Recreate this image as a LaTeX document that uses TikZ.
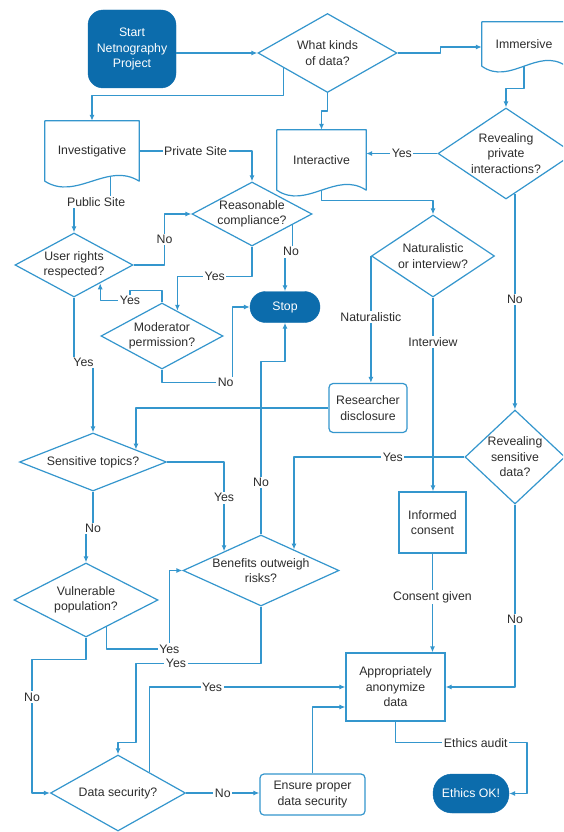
\documentclass[tikz,border=0pt]{standalone}
\usepackage{fontspec}
\setmainfont{Liberation Sans}
\usetikzlibrary{shapes.geometric,arrows.meta,calc}
\definecolor{lc}{RGB}{52,150,205}
\definecolor{dk}{RGB}{12,108,172}
\definecolor{txt}{RGB}{45,45,45}
\newcommand{\docout}[1]{%
  \draw[ln] (#1.south west) -- (#1.north west) -- (#1.north east) -- (#1.south east)
    .. controls ($(#1.south east)!0.333!(#1.south west)+(0,-20)$) and ($(#1.south east)!0.667!(#1.south west)+(0,20)$) .. (#1.south west) -- cycle;}
\begin{document}
\begin{tikzpicture}[x=1pt,y=-1pt,
  every node/.style={font=\fontsize{12.3}{15.5}\selectfont, text=txt},
  ln/.style={draw=lc, line width=1.2pt, line join=round},
  arr/.style={draw=lc, line width=1.2pt, line join=round, -{Latex[length=6pt,width=5pt]}},
  dia/.style={diamond, draw=lc, line width=1.2pt, inner sep=0pt, fill=white},
  dtext/.style={align=center, inner sep=0pt, text=txt},
  docbox/.style={rectangle, inner sep=0pt, align=center},
  box/.style={rectangle, draw=lc, line width=1.2pt, inner sep=0pt, align=center, fill=white},
  rbox/.style={box, rounded corners=4pt},
  term/.style={rectangle, fill=dk, draw=dk, text=white, inner sep=0pt, align=center},
  lbl/.style={fill=white, inner sep=1.5pt, text=txt}
]
\useasboundingbox (0,0) rectangle (563,832);
\fill[white] (0,0) rectangle (563,832);
\clip (0,0) rectangle (563,832);

% nodes
\node[term, rounded corners=15pt, minimum width=88pt, minimum height=78pt] (start) at (132,49) {Start\\Netnography\\Project};
\node[dia, minimum width=139pt, minimum height=79pt, label={[dtext]center:{What kinds\\of data?}}] (kinds) at (327.5,53) {};
\node[docbox, minimum width=84pt, minimum height=44pt] (imm) at (524,44) {Immersive};
\node[dia, minimum width=136pt, minimum height=91pt, label={[dtext]center:{Revealing\\private\\interactions?}}] (revpriv) at (506,153.5) {};
\node[docbox, minimum width=94pt, minimum height=60pt] (invest) at (92,151) {Investigative};
\node[docbox, minimum width=89pt, minimum height=60pt] (inter) at (321.5,160) {Interactive};
\node[dia, minimum width=120pt, minimum height=64pt, label={[dtext]center:{Reasonable\\compliance?}}] (reason) at (252,214) {};
\node[dia, minimum width=118pt, minimum height=64pt, label={[dtext]center:{User rights\\respected?}}] (user) at (74,265) {};
\node[dia, minimum width=123pt, minimum height=82pt, label={[dtext]center:{Naturalistic\\or interview?}}] (natural) at (433,256) {};
\node[term, rounded corners=15.5pt, minimum width=70pt, minimum height=31pt] (stop) at (285,307) {Stop};
\node[dia, minimum width=122pt, minimum height=66pt, label={[dtext]center:{Moderator\\permission?}}] (mod) at (162,336) {};
\node[rbox, minimum width=78pt, minimum height=49pt] (research) at (368,408) {Researcher\\disclosure};
\node[dia, minimum width=147pt, minimum height=58pt, label={[dtext]center:{Sensitive topics?}}] (sens) at (93,462) {};
\node[dia, minimum width=100pt, minimum height=94pt, label={[dtext]center:{Revealing\\sensitive\\data?}}] (revsens) at (515,457) {};
\node[box, minimum width=67pt, minimum height=61pt] (informed) at (432.5,522.5) {Informed\\consent};
\node[dia, minimum width=156pt, minimum height=71pt, label={[dtext]center:{Benefits outweigh\\risks?}}] (ben) at (261,570.5) {};
\node[dia, minimum width=144pt, minimum height=74pt, label={[dtext]center:{Vulnerable\\population?}}] (vuln) at (86,600) {};
\node[box, minimum width=99pt, minimum height=68pt] (anon) at (395.5,687) {Appropriately\\anonymize\\data};
\node[dia, minimum width=135pt, minimum height=76pt, label={[dtext]center:{Data security?}}] (ds) at (118,793) {};
\node[rbox, minimum width=105pt, minimum height=41pt] (ensure) at (312.5,794.5) {Ensure proper\\data security};
\node[term, rounded corners=19pt, minimum width=76pt, minimum height=39pt] (ethics) at (471,793.5) {Ethics OK!};

\docout{imm}
\docout{invest}
\docout{inter}

% helper coordinates
\coordinate (rpx) at ($(revpriv.south)!0.13!(revpriv.east)$);
\coordinate (ipx) at ($(invest.south east)!0.3!(invest.south west)+(0,-5)$);

% connectors
\draw[arr] (start.east |- kinds.west) -- (kinds.west);
\draw[arr] (kinds.east) -- ++(43,0) |- ($(imm.west)+(0,3)$);
\draw[arr] ($(kinds.west)!0.37!(kinds.south)$) -- ++(0,28) -| (invest.north);
\draw[arr] (kinds.south) -- ++(0,18) -| (inter.north);
\draw[arr] (imm.south) -- ++(0,22) -| (revpriv.north);
\draw[arr] (revpriv.west) -- node[lbl]{Yes} (revpriv.west -| inter.east);
\draw[arr] (invest.east) -| node[lbl,pos=0.25]{Private Site} (reason.north);
\draw[arr] (ipx) -- ++(0,26) -| node[lbl,pos=0.2]{Public Site} (user.north);
\draw[arr] (inter.south) -- ++(0,10) -| (natural.north);
\draw[arr] (user.east) -- ++(31,0) |- node[lbl,pos=0.25]{No} (reason.west);
\draw[arr] ($(reason.east)!0.33!(reason.south)$) -- ++(0,27) -| node[lbl,pos=0.1]{No} (stop.north);
\draw[arr] (reason.south) -- ++(0,30) -| node[lbl,pos=0.25]{Yes} ($(mod.north)!0.25!(mod.east)$);
\draw[arr] (mod.north) -- ++(0,-12) -- ++(-32,0) -- ++(0,10) node[lbl]{Yes} -| ($(user.east)!0.56!(user.south)$);
\draw[arr] (mod.south) -- ++(0,13) -| node[lbl,pos=0.45]{No} ($(stop.west)+(-17,0)$) -- (stop.west);
\draw[arr] (ben.north) -- node[lbl,pos=0.3]{No} ++(0,-173) -| (stop.south);
\draw[arr] (user.south) -- ++(0,65) -| node[lbl,pos=0.25]{Yes} (sens.north);
\draw[arr] (natural.west) -- node[lbl,pos=0.48]{Naturalistic} (natural.west |- research.north);
\draw[arr] (natural.south) -- node[lbl,pos=0.23]{Interview} (natural.south |- informed.north);
\draw[arr] (research.west) -| ($(sens.north)!0.58!(sens.east)$);
\draw[arr] (rpx) -- node[lbl,pos=0.49]{No} (rpx |- revsens.north);
\draw[arr] (revsens.west) -| node[lbl,pos=0.21]{Yes} ($(ben.north)!0.42!(ben.east)$);
\draw[arr] (revsens.south) |- node[lbl,pos=0.315]{No} (anon.east);
\draw[arr] (informed.south) -- node[lbl,pos=0.44]{Consent given} (informed.south |- anon.north);
\draw[arr] (sens.east) -| node[lbl,pos=0.7]{Yes} ($(ben.west)!0.53!(ben.north)$);
\draw[arr] (sens.south) -- ++(0,37) node[lbl]{No} -| (vuln.north);
\draw[arr] ($(vuln.south)!0.28!(vuln.east)$) -- ++(0,22) -- ++(63,0) node[lbl]{Yes} |- (ben.west);
\draw[arr] (ben.south) -- ++(0,57) -- node[lbl,pos=0.68]{Yes} ++(-125,0) -- ++(0,79) -| (ds.north);
\draw[arr] (vuln.south) -- ++(0,22) -- ++(-54,0) |- node[lbl,pos=0.14]{No} (ds.west);
\draw[arr] ($(ds.north)!0.46!(ds.east)$) |- node[lbl,pos=0.66]{Yes} (anon.west);
\draw[arr] (ds.east) -- node[lbl]{No} (ds.east -| ensure.west);
\draw[arr] (ensure.north) |- ($(anon.west)+(0,20)$);
\draw[arr] (anon.south) -- ++(0,21) -- node[lbl,pos=0.61]{Ethics audit} ++(131.5,0) |- (ethics.east);
\end{tikzpicture}
\end{document}
